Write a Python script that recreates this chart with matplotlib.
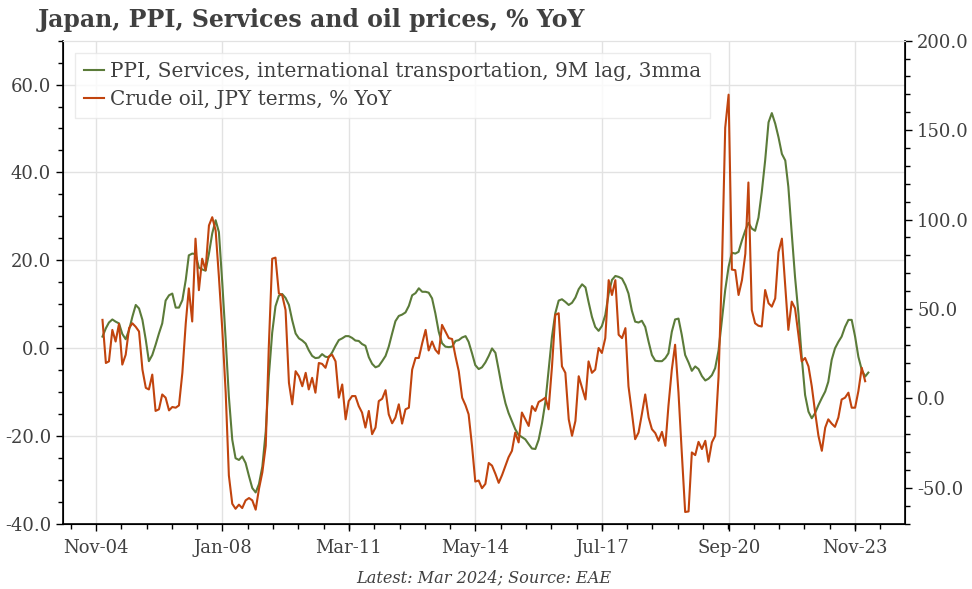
import numpy as np
import pandas as pd
import matplotlib
matplotlib.use('Agg')
import matplotlib.pyplot as plt
import matplotlib.dates as mdates
from matplotlib.ticker import MultipleLocator, AutoMinorLocator, FormatStrFormatter

# PPI services, international transportation (9M lag, 3mma), % YoY - left axis
ppi = [2.6, 4.5, 5.8, 6.5, 6.0, 5.6, 3.2, 2.0, 4.1, 7.1,
       9.8, 9.0, 6.4, 1.8, -3.0, -1.6, 0.7, 3.3, 5.6, 10.8,
       12.0, 12.4, 9.2, 9.2, 10.9, 15.5, 21.1, 21.5, 21.4, 18.3,
       17.9, 17.6, 21.5, 26.1, 29.1, 26.4, 14.7, 1.8, -11.1, -20.9,
       -25.1, -25.5, -24.7, -26.2, -29.2, -31.9, -32.9, -31.0, -27.0, -19.0,
       -6.5, 3.5, 9.5, 11.9, 12.3, 11.4, 9.8, 6.3, 3.3, 2.2,
       1.7, 1.0, -0.5, -1.8, -2.3, -2.2, -1.4, -2.0, -2.1, -1.0,
       0.5, 1.8, 2.2, 2.7, 2.7, 2.3, 1.7, 1.6, 0.9, 0.5,
       -2.1, -3.6, -4.4, -4.1, -3.0, -1.8, 0.3, 3.3, 6.1, 7.3,
       7.6, 8.1, 9.6, 12.0, 12.5, 13.6, 12.8, 12.8, 12.6, 11.3,
       7.9, 3.7, 1.1, 0.3, 0.2, 0.3, 1.6, 1.8, 2.4, 2.7,
       1.4, -1.2, -3.9, -4.8, -4.4, -3.3, -1.8, -0.1, -1.1, -5.0,
       -9.2, -12.6, -14.8, -16.7, -18.5, -19.8, -20.3, -20.8, -21.9, -22.9,
       -23.0, -20.9, -17.1, -12.2, -5.0, 2.6, 7.9, 10.8, 11.1, 10.5,
       9.8, 10.3, 11.5, 13.4, 14.5, 13.8, 10.5, 7.1, 4.8, 3.9,
       5.0, 7.5, 12.4, 15.5, 16.4, 16.2, 15.8, 14.3, 12.4, 8.5,
       6.0, 5.8, 6.2, 4.8, 1.4, -1.6, -2.9, -3.0, -3.0, -2.3,
       -1.2, 3.7, 6.5, 6.7, 3.0, -1.6, -3.3, -5.2, -4.2, -4.8,
       -6.4, -7.4, -7.0, -6.2, -4.6, -0.6, 6.2, 13.2, 18.5, 21.7,
       21.5, 21.9, 24.5, 26.8, 28.5, 27.2, 26.7, 29.7, 35.5, 42.7,
       51.4, 53.5, 51.1, 48.0, 44.2, 42.7, 36.7, 26.1, 16.2, 7.9,
       -2.0, -10.7, -14.5, -16.0, -14.8, -13.0, -11.4, -9.9, -7.7, -2.7,
       -0.1, 1.4, 2.6, 4.8, 6.4, 6.4, 2.6, -2.0, -5.0, -6.5,
       -5.6]

# Crude oil in JPY, % YoY - right axis
oil = [43.9, 19.8, 20.7, 38.3, 31.8, 41.7, 18.9, 24.4, 39.3, 42.0,
       40.0, 37.4, 16.1, 5.9, 5.0, 13.3, -7.0, -6.1, 2.2, 0.4,
       -6.7, -4.8, -5.2, -3.9, 14.3, 42.0, 61.5, 43.0, 89.3, 60.5,
       78.1, 71.7, 96.7, 101.3, 93.9, 67.9, 38.3, 3.2, -43.1, -58.9,
       -61.7, -59.4, -61.3, -57.0, -55.7, -57.0, -62.2, -50.6, -41.3, -26.5,
       29.0, 78.1, 78.7, 58.7, 57.8, 49.4, 8.7, -3.3, 15.2, 12.4,
       6.8, 14.3, 5.0, 11.5, 3.2, 19.8, 19.3, 17.1, 23.5, 24.4,
       20.7, 0.4, 7.8, -11.7, -1.5, 1.3, 1.3, -4.3, -7.9, -16.3,
       -7.0, -20.0, -16.3, -1.5, -0.2, 4.6, -8.9, -13.9, -10.7, -3.3,
       -14.1, -6.1, -5.2, 16.1, 22.6, 22.6, 30.9, 38.3, 26.8, 31.8,
       27.2, 25.0, 41.1, 37.4, 33.7, 33.2, 23.5, 15.2, 0.4, -3.9,
       -8.9, -26.5, -46.5, -45.9, -50.2, -47.8, -36.1, -37.6, -42.2, -47.2,
       -42.8, -37.6, -32.9, -29.3, -19.1, -24.6, -7.9, -11.7, -15.4, -4.3,
       -7.0, -2.0, -0.9, 0.4, -6.1, 17.9, 46.7, 47.6, 17.9, 14.3,
       -11.7, -20.9, -12.6, 12.4, 5.9, -0.6, 20.7, 14.3, 16.1, 28.2,
       25.4, 33.7, 66.1, 57.8, 66.1, 35.6, 33.7, 39.3, 6.8, -7.9,
       -22.8, -19.1, -8.9, 2.2, -10.7, -17.2, -19.4, -23.7, -18.7, -26.5,
       -4.3, 16.1, 30.0, 3.2, -30.2, -63.5, -63.2, -30.2, -31.7, -24.3,
       -28.3, -23.7, -35.4, -24.6, -20.9, 12.0, 70.0, 151.3, 169.8, 72.0,
       71.7, 57.8, 66.1, 80.9, 120.7, 49.4, 42.0, 40.6, 40.2, 60.6,
       53.2, 51.3, 55.9, 81.8, 89.3, 62.4, 38.3, 54.1, 50.4, 35.6,
       20.7, 22.6, 17.9, 6.8, -7.9, -20.9, -29.3, -16.3, -11.7, -14.1,
       -15.9, -10.7, -0.6, 0.4, 3.2, -5.2, -5.2, 4.1, 17.1, 9.6]

ppi_dates = pd.date_range('2004-12-31', periods=len(ppi), freq='ME')
oil_dates = pd.date_range('2004-12-31', periods=len(oil), freq='ME')

tick_dates = pd.to_datetime(['2004-11-01', '2008-01-01', '2011-03-01', '2014-05-01',
                             '2017-07-01', '2020-09-01', '2023-11-01'])
tick_labels = ['Nov-04', 'Jan-08', 'Mar-11', 'May-14', 'Jul-17', 'Sep-20', 'Nov-23']

green = '#5b7b39'
red = '#c1440e'
txt = '#404040'
font = 'DejaVu Serif'

plt.rcParams['font.family'] = font

fig = plt.figure(figsize=(9.72, 5.89), dpi=100)
ax = fig.add_axes([0.0648, 0.111, 0.8666, 0.820])
ax2 = ax.twinx()

l1, = ax.plot(ppi_dates, ppi, color=green, lw=1.5,
              label='PPI, Services, international transportation, 9M lag, 3mma')
l2, = ax2.plot(oil_dates, oil, color=red, lw=1.5, label='Crude oil, JPY terms, % YoY')

ax.set_xlim(pd.Timestamp('2004-01-05'), pd.Timestamp('2025-02-01'))
ax.set_ylim(-40, 70)
ax2.set_ylim(-70, 200)

ax.set_xticks(tick_dates)
ax.set_xticklabels(tick_labels)
ax.xaxis.set_minor_locator(AutoMinorLocator(5))

ax.yaxis.set_major_locator(MultipleLocator(20))
ax.yaxis.set_minor_locator(MultipleLocator(5))
ax.yaxis.set_major_formatter(FormatStrFormatter('%.1f'))
ax2.yaxis.set_major_locator(MultipleLocator(50))
ax2.yaxis.set_minor_locator(MultipleLocator(10))
ax2.yaxis.set_major_formatter(FormatStrFormatter('%.1f'))

ax.grid(True, which='major', color='#e2e2e2', lw=1)
ax.set_axisbelow(True)

for a in (ax, ax2):
    a.tick_params(which='major', length=5, width=1, colors='black', labelcolor=txt, labelsize=13)
    a.tick_params(which='minor', length=3.5, width=1, colors='black')
    a.spines['top'].set_color('#e2e2e2')
ax.tick_params(axis='x', pad=6)
ax2.spines['right'].set_linewidth(1.2)
ax.spines['left'].set_linewidth(1.2)
ax.spines['bottom'].set_linewidth(1.2)

leg = ax.legend(handles=[l1, l2], loc='upper left', bbox_to_anchor=(0.0, 1.0),
                fontsize=14.4, frameon=True, fancybox=False, handlelength=1.0,
                handletextpad=0.3, borderpad=0.45, labelspacing=0.45, borderaxespad=0.6)
leg.get_frame().set_edgecolor('#e6e6e6')
leg.get_frame().set_linewidth(1)
for t in leg.get_texts():
    t.set_color(txt)

fig.text(0.039, 0.954, 'Japan, PPI, Services and oil prices, % YoY', fontsize=17,
         fontweight='bold', color=txt, ha='left', va='baseline')
fig.text(0.498, 0.012, 'Latest: Mar 2024; Source: EAE', fontsize=11.6, style='italic',
         color=txt, ha='center', va='baseline')

fig.savefig('out.png', dpi=100)
